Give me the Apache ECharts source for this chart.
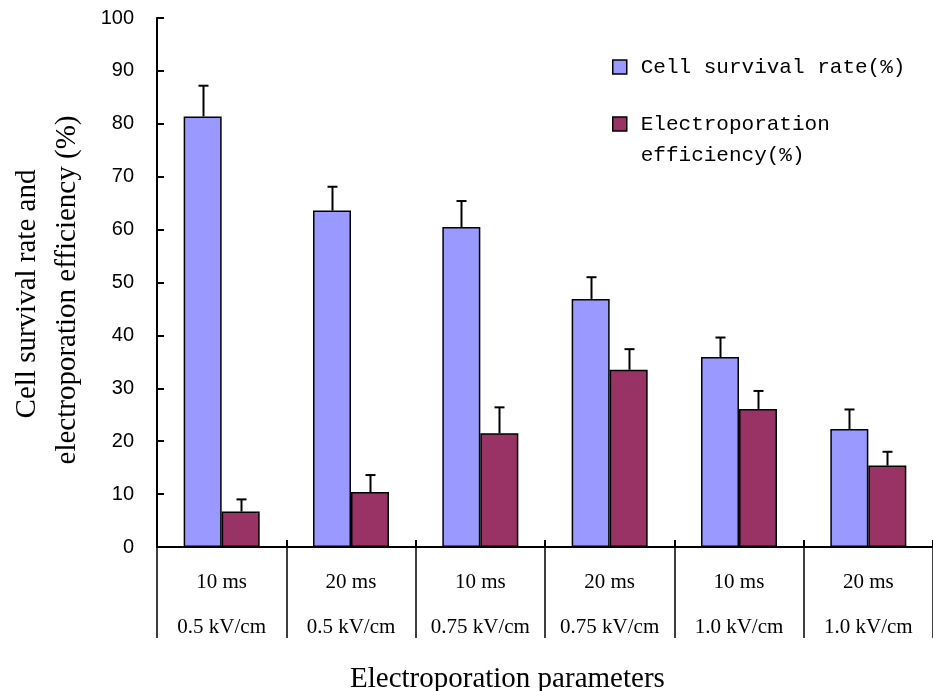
<!DOCTYPE html>
<html><head><meta charset="utf-8">
<script src="https://cdn.jsdelivr.net/npm/echarts@6/dist/echarts.min.js"></script>
<style>html,body{margin:0;padding:0;background:#fff}#c{width:933px;height:691px}</style>
</head><body><div id="c"></div>
<script>
const durations = ['10 ms', '20 ms', '10 ms', '20 ms', '10 ms', '20 ms'];
const fields = ['0.5 kV/cm', '0.5 kV/cm', '0.75 kV/cm', '0.75 kV/cm', '1.0 kV/cm', '1.0 kV/cm'];
const survival = [81.4, 63.6, 60.5, 46.9, 35.9, 22.3];
const survivalErr = [5.8, 4.5, 4.9, 4.1, 3.7, 3.7];
const efficiency = [6.7, 10.4, 21.5, 33.5, 26.1, 15.4];
const efficiencyErr = [2.3, 3.2, 4.9, 3.9, 3.4, 2.6];
const yMin = 0, yMax = 100, yStep = 10;
const seriesNames = ['Cell survival rate(%)', 'Electroporation efficiency(%)'];

const categories = durations.map((d, i) => d + '\n' + fields[i]);

const chart = echarts.init(document.getElementById('c'), null, {renderer: 'canvas'});

function errSeries(vals, errs, offset) {
  return {
    type: 'custom', xAxisIndex: 0, yAxisIndex: 0, z: 5, silent: true,
    data: vals.map((v, i) => [i, v, v + errs[i]]),
    renderItem(params, api) {
      const i = api.value(0);
      const base = api.coord([i, api.value(1)]);
      const top = api.coord([i, api.value(2)]);
      const x = Math.round(base[0] + offset) + 0.5;
      return {type: 'group', children: [
        {type: 'line', shape: {x1: x, y1: base[1], x2: x, y2: top[1]}, style: {stroke: '#000', lineWidth: 2}},
        {type: 'line', shape: {x1: x - 5, y1: top[1], x2: x + 5, y2: top[1]}, style: {stroke: '#000', lineWidth: 2}}
      ]};
    }
  };
}

const legendBase = {
  orient: 'vertical', left: 612, padding: 0, itemWidth: 14, itemHeight: 14,
  icon: 'rect',
  itemStyle: {borderColor: '#000', borderWidth: 1.5},
  textStyle: {fontFamily: 'Liberation Mono', fontSize: 21, color: '#000', lineHeight: 31, padding: [0, 0, 0, 9]}
};

chart.setOption({
  backgroundColor: '#fff',
  animation: false,
  title: {
    text: 'Electroporation parameters', left: 350, top: 664, padding: 0,
    textStyle: {fontFamily: 'Liberation Serif', fontSize: 29, fontWeight: 'normal', color: '#000', lineHeight: 30}
  },
  legend: [
    Object.assign({}, legendBase, {top: 51.5, data: [seriesNames[0]]}),
    Object.assign({}, legendBase, {top: 77.5, data: [seriesNames[1]],
      formatter: () => '\nElectroporation\nefficiency(%)'})
  ],
  graphic: [
    {type: 'text', x: 27, y: 294, rotation: Math.PI / 2,
     style: {text: 'Cell survival rate and', font: '29px "Liberation Serif"', fill: '#000', align: 'center', verticalAlign: 'middle'}},
    {type: 'text', x: 67, y: 290, rotation: Math.PI / 2,
     style: {text: 'electroporation efficiency (%)', font: '29px "Liberation Serif"', fill: '#000', align: 'center', verticalAlign: 'middle'}}
  ],
  grid: {left: 157, top: 18, width: 785, height: 529},
  xAxis: [
    {
      type: 'category', data: categories, position: 'bottom',
      axisLine: {show: true, lineStyle: {color: '#000', width: 2}},
      axisTick: {show: true, inside: true, length: 7, interval: 0, lineStyle: {color: '#000', width: 2}},
      axisLabel: {interval: 0, fontFamily: 'Liberation Serif', fontSize: 21, lineHeight: 45, margin: 13, color: '#000'}
    },
    {
      type: 'category', data: categories, position: 'bottom', offset: 0,
      axisLine: {show: true, lineStyle: {color: '#000', width: 2}},
      axisTick: {show: true, inside: false, length: 91, interval: 0, lineStyle: {color: '#000', width: 1.5}},
      axisLabel: {show: false}
    }
  ],
  yAxis: {
    type: 'value', min: yMin, max: yMax, interval: yStep,
    axisLine: {show: true, lineStyle: {color: '#000', width: 2}},
    axisTick: {show: true, inside: true, length: 7, lineStyle: {color: '#000', width: 2}},
    axisLabel: {fontFamily: 'Liberation Sans', fontSize: 20, color: '#000', margin: 23},
    splitLine: {show: false}
  },
  series: [
    {name: seriesNames[0], type: 'bar', data: survival, barWidth: 38, barGap: '0%',
     itemStyle: {color: '#9999FF', borderColor: '#000', borderWidth: 1.5}},
    {name: seriesNames[1], type: 'bar', data: efficiency, barWidth: 38, barGap: '0%',
     itemStyle: {color: '#993366', borderColor: '#000', borderWidth: 1.5}},
    errSeries(survival, survivalErr, -19),
    errSeries(efficiency, efficiencyErr, 19)
  ]
});
</script>
</body></html>
